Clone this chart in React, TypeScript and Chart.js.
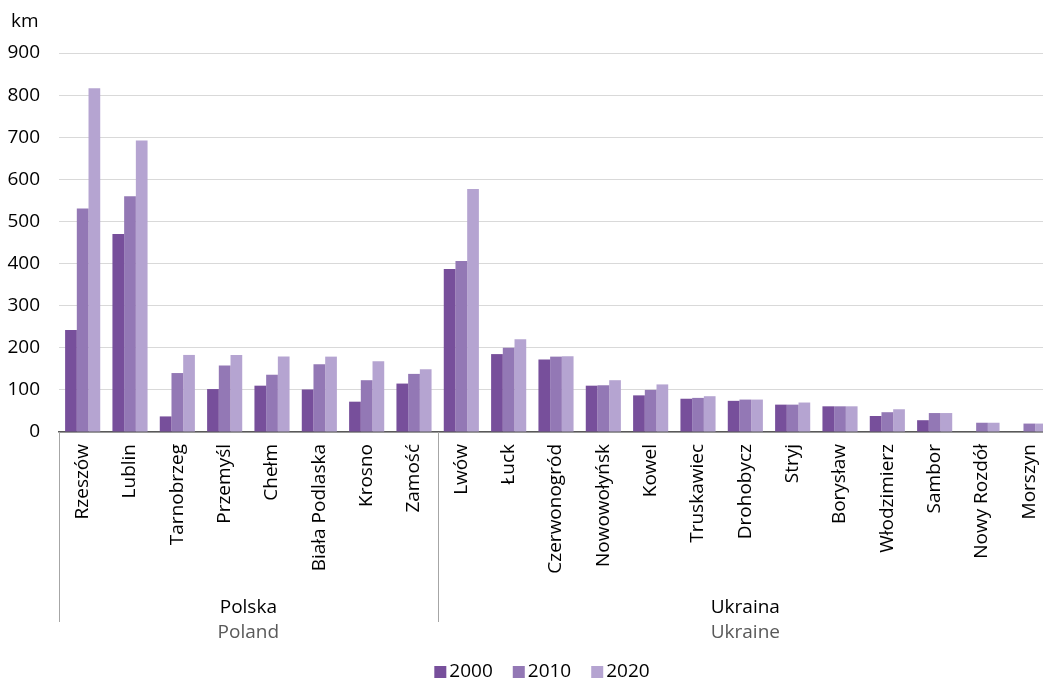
import React, { useEffect, useRef } from 'react';
import { Chart, registerables } from 'chart.js';

Chart.register(...registerables);

const categories = [
  'Rzeszów', 'Lublin', 'Tarnobrzeg', 'Przemyśl', 'Chełm', 'Biała Podlaska', 'Krosno', 'Zamość',
  'Lwów', 'Łuck', 'Czerwonogród', 'Nowowołyńsk', 'Kowel', 'Truskawiec', 'Drohobycz', 'Stryj',
  'Borysław', 'Włodzimierz', 'Sambor', 'Nowy Rozdół', 'Morszyn',
];
const values2000 = [242, 470, 37, 102, 110, 101, 72, 115, 387, 185, 172, 110, 87, 79, 74, 65, 61, 38, 28, null, null];
const values2010 = [531, 560, 140, 158, 136, 161, 123, 138, 406, 200, 179, 111, 100, 81, 77, 65, 61, 47, 45, 22, 20];
const values2020 = [816, 692, 183, 183, 179, 179, 168, 149, 577, 220, 180, 123, 113, 85, 77, 70, 61, 54, 45, 22, 20];
const seriesLabels = ['2000', '2010', '2020'];
const groupNames = ['Polska', 'Ukraina'];
const groupNamesEn = ['Poland', 'Ukraine'];
const groupStarts = [0, 8];
const groupEnds = [7, 20];
const yMax = 900;
const yStep = 100;
const unitLabel = 'km';

const colors = ['#774F9B', '#9378B5', '#B5A4D1'];
const FONT = "'Open Sans', sans-serif";
const FS = 19;

const overlay = {
  id: 'overlay',
  afterDraw(chart: any) {
    const ctx = chart.ctx as CanvasRenderingContext2D;
    const x = chart.scales.x;
    const area = chart.chartArea;
    const half = (x.getPixelForValue(1) - x.getPixelForValue(0)) / 2;
    ctx.save();
    ctx.strokeStyle = '#a6a6a6';
    ctx.lineWidth = 1;
    groupStarts.forEach((s) => {
      const lx = Math.round(x.getPixelForValue(s) - half) + 0.5;
      ctx.beginPath();
      ctx.moveTo(lx, area.bottom);
      ctx.lineTo(lx, 622);
      ctx.stroke();
    });
    ctx.font = `${FS}px ${FONT}`;
    ctx.textAlign = 'center';
    ctx.textBaseline = 'middle';
    groupNames.forEach((name, i) => {
      const l = x.getPixelForValue(groupStarts[i]) - half;
      const r = x.getPixelForValue(groupEnds[i]) + half;
      const cx = (l + r) / 2;
      ctx.fillStyle = '#000';
      ctx.fillText(name, cx, 608);
      ctx.fillStyle = '#595959';
      ctx.fillText(groupNamesEn[i], cx, 633);
    });
    ctx.textAlign = 'left';
    ctx.fillStyle = '#000';
    ctx.fillText(unitLabel, 11, 22);
    const box = 12;
    const gapText = 3;
    const gapItem = 20;
    const widths = seriesLabels.map((t) => box + gapText + ctx.measureText(t).width);
    const total = widths.reduce((a, b) => a + b, 0) + gapItem * (widths.length - 1);
    let lx = 542 - total / 2;
    const ly = 672;
    seriesLabels.forEach((t, i) => {
      ctx.fillStyle = colors[i];
      ctx.fillRect(lx, ly - box / 2, box, box);
      ctx.fillStyle = '#000';
      ctx.fillText(t, lx + box + gapText, ly);
      lx += widths[i] + gapItem;
    });
    ctx.restore();
  },
};

export default function App() {
  const ref = useRef<HTMLCanvasElement>(null);
  useEffect(() => {
    document.body.style.margin = '0';
    const series = [values2000, values2010, values2020];
    const chart = new Chart(ref.current!, {
      type: 'bar',
      data: {
        labels: categories,
        datasets: series.map((v, i) => ({
          label: seriesLabels[i],
          data: v,
          backgroundColor: colors[i],
          borderWidth: 0,
          categoryPercentage: 0.742,
          barPercentage: 1,
        })),
      },
      options: {
        responsive: false,
        animation: false,
        devicePixelRatio: 1,
        layout: { padding: { left: 0, top: 53, right: 47, bottom: 0 } },
        plugins: { legend: { display: false }, tooltip: { enabled: false } },
        scales: {
          x: {
            afterFit: (s: any) => { s.height = 249; },
            grid: { display: false, drawTicks: false },
            border: { display: true, color: '#595959', width: 1.5 },
            ticks: {
              autoSkip: false,
              maxRotation: 90,
              minRotation: 90,
              padding: 12,
              color: '#000',
              font: { family: FONT, size: FS },
            },
          },
          y: {
            min: 0,
            max: yMax,
            afterFit: (s: any) => { s.width = 59; },
            grid: { color: '#d9d9d9', drawTicks: false },
            border: { display: false },
            ticks: {
              stepSize: yStep,
              padding: 19,
              color: '#000',
              font: { family: FONT, size: FS },
            },
          },
        },
      },
      plugins: [overlay],
    });
    return () => chart.destroy();
  }, []);
  return (
    <div style={{ position: 'fixed', left: 0, top: 0, width: 1043, height: 681, overflow: 'hidden', background: '#fff' }}>
      <canvas ref={ref} width={1100} height={681} style={{ display: 'block', width: 1100, height: 681 }} />
    </div>
  );
}
